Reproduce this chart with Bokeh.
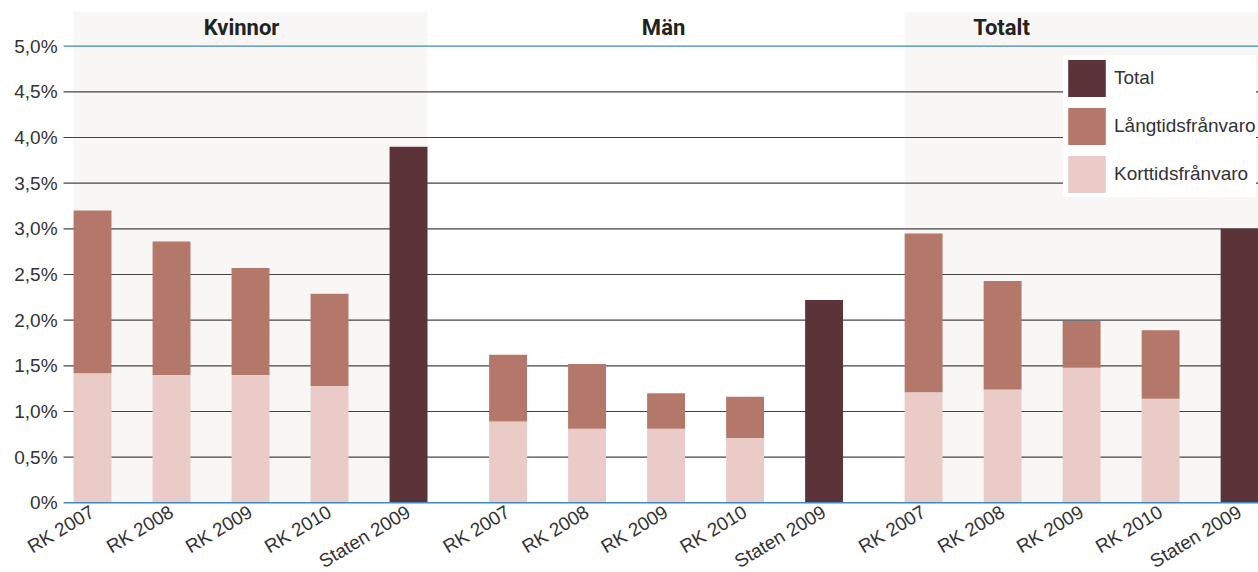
import math
from bokeh.plotting import figure
from bokeh.models import Range1d, Legend, LegendItem, ColumnDataSource
from bokeh.core.properties import value
from bokeh.embed import file_html
from bokeh.resources import INLINE

# ---------------- data ----------------
groups = ["Kvinnor", "Män", "Totalt"]
periods = ["RK 2007", "RK 2008", "RK 2009", "RK 2010", "Staten 2009"]

kort_kvinnor = [1.42, 1.40, 1.40, 1.28]
lang_kvinnor = [1.78, 1.46, 1.17, 1.01]
kort_man = [0.89, 0.81, 0.81, 0.71]
lang_man = [0.73, 0.71, 0.39, 0.45]
kort_totalt = [1.21, 1.24, 1.48, 1.14]
lang_totalt = [1.74, 1.19, 0.51, 0.75]
staten_total = [3.90, 2.22, 3.00]

y_ticks = [0.0, 0.5, 1.0, 1.5, 2.0, 2.5, 3.0, 3.5, 4.0, 4.5, 5.0]
y_tick_labels = ["0%", "0,5%", "1,0%", "1,5%", "2,0%", "2,5%", "3,0%",
                 "3,5%", "4,0%", "4,5%", "5,0%"]
shaded_groups = ["Kvinnor", "Totalt"]
legend_labels = ["Total", "Långtidsfrånvaro", "Korttidsfrånvaro"]

# ---------------- layout / style ----------------
GROUP_STEP = 5.26
BAR_W = 0.48
X_START, X_END = -1.165, 14.759
Y_START, Y_END = -0.763, 5.500
SHADE_TOP = 5.38
GRID_X0 = -0.367          # left end of the grid lines (plot-area edge)
YLBL_X = -0.443           # right edge of the y tick labels
LBL_DX, LBL_DY = 0.0, -0.08
LBL_ANGLE = 0.54
FONT = "Liberation Sans"
C_TOTAL = "#5b3338"
C_LANG = "#b4786b"
C_KORT = "#eacbc8"
C_SHADE = "#f8f7f5"
C_BLUE = "#3f86c5"
C_GRID = "#444444"
C_TEXT = "#333333"

kort_all = [kort_kvinnor, kort_man, kort_totalt]
lang_all = [lang_kvinnor, lang_man, lang_totalt]

def xpos(g, i):
    return round(g * GROUP_STEP + i, 2)

rk_x, rk_kort, rk_top = [], [], []
st_x = []
tick_x, tick_lbl = [], []
for g, grp in enumerate(groups):
    for i, per in enumerate(periods):
        tick_x.append(xpos(g, i))
        tick_lbl.append(per)
    for i in range(4):
        rk_x.append(xpos(g, i))
        rk_kort.append(kort_all[g][i])
        rk_top.append(round(kort_all[g][i] + lang_all[g][i], 2))
    st_x.append(xpos(g, 4))

src_rk = ColumnDataSource(dict(x=rk_x, kort=rk_kort, top=rk_top))
src_st = ColumnDataSource(dict(x=st_x, top=staten_total))
src_lbl = ColumnDataSource(dict(x=[t + LBL_DX for t in tick_x],
                                y=[LBL_DY] * len(tick_x), text=tick_lbl))

p = figure(width=1258, height=572, output_backend="svg", toolbar_location=None,
           x_range=Range1d(X_START, X_END), y_range=Range1d(Y_START, Y_END),
           x_axis_location=None, y_axis_location=None,
           min_border=0, outline_line_color=None,
           background_fill_color="white", border_fill_color="white")
p.xgrid.visible = False
p.ygrid.visible = False

# shaded group backgrounds
sh_left = [xpos(groups.index(g), 0) - BAR_W / 2 for g in shaded_groups]
sh_right = [xpos(groups.index(g), 4) + BAR_W / 2 for g in shaded_groups]
p.quad(left=sh_left, right=sh_right, bottom=0, top=SHADE_TOP,
       fill_color=C_SHADE, line_color=None)

# grid lines
inner = y_ticks[1:-1]
p.segment(x0=[GRID_X0] * len(inner), x1=[X_END] * len(inner), y0=inner, y1=inner,
          line_color=C_GRID, line_width=1.2)
p.segment(x0=[GRID_X0], x1=[X_END], y0=[y_ticks[-1]], y1=[y_ticks[-1]],
          line_color=C_BLUE, line_width=1.2)

# bars
r_kort = p.vbar(x="x", bottom=0, top="kort", width=BAR_W, source=src_rk,
                fill_color=C_KORT, line_color=None)
r_lang = p.vbar(x="x", bottom="kort", top="top", width=BAR_W, source=src_rk,
                fill_color=C_LANG, line_color=None)
r_tot = p.vbar(x="x", bottom=0, top="top", width=BAR_W, source=src_st,
               fill_color=C_TOTAL, line_color=None)

# baseline (drawn over the bar feet)
p.segment(x0=[GRID_X0], x1=[X_END], y0=[y_ticks[0]], y1=[y_ticks[0]],
          line_color=C_BLUE, line_width=1.4)

# y tick labels
p.text(x=[YLBL_X] * len(y_ticks), y=y_ticks, text=y_tick_labels,
       text_align="right", text_baseline="middle",
       text_font=value(FONT), text_font_size="19px", text_color=C_TEXT)

# rotated category labels under the baseline
p.text(x="x", y="y", text="text", source=src_lbl, angle=LBL_ANGLE,
       text_align="right", text_baseline="middle",
       text_font=value(FONT), text_font_size="19px", text_color=C_TEXT)

# group titles
title_x = [1.886, 7.228, 11.506]
p.text(x=title_x, y=[5.205] * len(groups), text=groups,
       text_font=value("Roboto"), text_font_style="bold",
       text_font_size="22px", text_align="center",
       text_baseline="alphabetic", text_color="#222222")

legend = Legend(items=[LegendItem(label=legend_labels[0], renderers=[r_tot]),
                       LegendItem(label=legend_labels[1], renderers=[r_lang]),
                       LegendItem(label=legend_labels[2], renderers=[r_kort])],
                location=(1063, 375), glyph_width=47, glyph_height=46,
                spacing=2, padding=3, margin=0, label_standoff=4,
                label_text_font=FONT, label_text_font_size="19px",
                label_text_color=C_TEXT, border_line_color=None,
                background_fill_color="white", background_fill_alpha=1.0)
p.add_layout(legend)

open("out.html", "w").write(file_html(p, INLINE))
